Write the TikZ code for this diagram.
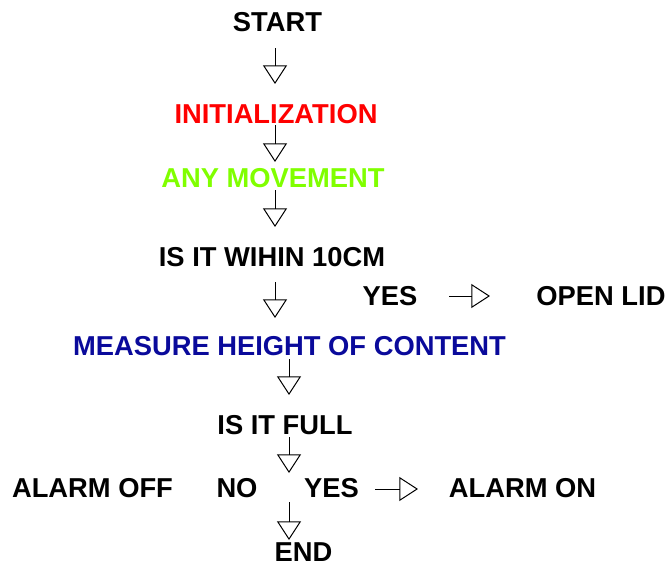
\documentclass[tikz,border=0pt]{standalone}
\usepackage{fontspec}
\setmainfont{Liberation Sans}
\usetikzlibrary{arrows.meta}
\definecolor{initred}{RGB}{255,0,0}
\definecolor{movegreen}{RGB}{128,255,0}
\definecolor{measblue}{RGB}{10,10,155}
\tikzset{
  lbl/.style={font=\bfseries\fontsize{20.5}{24}\selectfont, inner sep=0pt, text depth=0pt},
  flow/.style={-{Triangle[open,length=14pt,width=18pt]}, line width=0.75pt}
}
\begin{document}
\begin{tikzpicture}[x=0.75pt,y=-0.75pt]
\useasboundingbox (0,0) rectangle (665,565);
% the steps
\node[lbl] (start) at (277.5,22) {START};
\node[lbl, initred] (init) at (276,114) {INITIALIZATION};
\node[lbl, movegreen] (move) at (273,178) {ANY MOVEMENT};
\node[lbl] (within) at (272,257) {IS IT WIHIN 10CM};
\node[lbl] (yesa) at (390,296) {YES};
\node[lbl] (lid) at (601,296) {OPEN LID};
\node[lbl, measblue] (meas) at (289.5,346) {MEASURE HEIGHT OF CONTENT};
\node[lbl] (full) at (285,425) {IS IT FULL};
\node[lbl] (off) at (92.5,488) {ALARM OFF};
\node[lbl] (no) at (237,488) {NO};
\node[lbl] (yesb) at (331.5,488) {YES};
\node[lbl] (on) at (522.5,488) {ALARM ON};
\node[lbl] (end) at (303.5,552) {END};
% down arrows
\foreach \n/\x/\ya/\yb in {1/275/48/84, 2/275/125/162, 3/275/190/227, 4/275/282/318, 5/289/359/395, 6/289/437/473, 7/289/502/540}{
  \coordinate (v\n a) at (\x,\ya);
  \coordinate (v\n b) at (\x,\yb);
  \draw[flow] (v\n a) -- (v\n b);
}
% side arrows
\coordinate (h1a) at (449,296);
\coordinate (h1b) at (490,296);
\coordinate (h2a) at (375,489);
\coordinate (h2b) at (418,489);
\draw[flow] (h1a) -- (h1b);
\draw[flow] (h2a) -- (h2b);
\end{tikzpicture}
\end{document}
